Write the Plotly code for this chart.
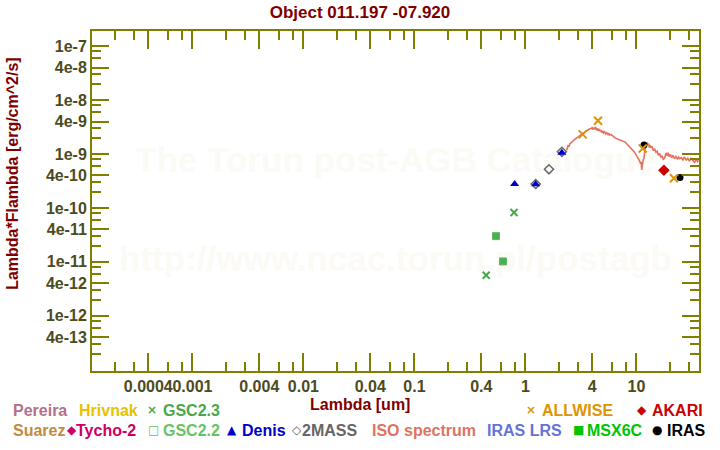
import plotly.graph_objects as go
import math

# ---------------- data ----------------
gsc23_x = [0.443, 0.789]
gsc23_y = [5.64e-12, 8.24e-11]

gsc22_x = [0.543, 0.628]
gsc22_y = [3.0e-11, 1.02e-11]

denis_x = [0.80, 1.238, 2.13]
denis_y = [2.79e-10, 2.75e-10, 1.06e-9]

mass2_x = [1.238, 1.63, 2.13]
mass2_y = [2.78e-10, 5.21e-10, 1.10e-9]

allwise_x = [3.28, 4.51, 11.4, 21.8]
allwise_y = [2.31e-9, 4.15e-9, 1.27e-9, 3.56e-10]

iras_x = [11.7, 24.7]
iras_y = [1.47e-9, 3.66e-10]

akari_x = [17.7]
akari_y = [5.0e-10]

iso_x = [2.34, 2.38, 2.42, 2.47, 2.52, 2.60, 2.66, 2.73, 2.80, 2.88, 2.96, 3.04,
         3.12, 3.20, 3.28, 3.37, 3.46, 3.55, 3.64, 3.74, 3.83, 3.93, 4.00, 4.07,
         4.14, 4.21, 4.28, 4.35, 4.42, 4.50, 4.58, 4.67, 4.76, 4.85, 4.95, 5.05,
         5.18, 5.30, 5.42, 5.55, 5.65, 5.75, 5.90, 6.05, 6.20, 6.38, 6.55, 6.75,
         6.90, 7.07, 7.25, 7.45, 7.65, 7.85, 8.05, 8.30, 8.53, 8.80, 9.05, 9.32,
         9.55, 9.80, 10.0, 10.2, 10.45, 10.7, 10.9, 11.05, 11.15, 11.25, 11.4, 11.55,
         11.7, 11.85, 12.0, 12.15, 12.3, 12.5, 12.7, 12.9, 13.1, 13.3, 13.6, 13.9,
         14.2, 14.6, 15.0, 15.4, 15.8, 16.2, 16.6, 17.0, 17.5, 18.0, 18.5, 19.0,
         19.3, 19.8, 20.3, 20.8, 21.4, 22.0, 22.7, 23.5, 24.0, 24.6, 25.4, 26.2,
         27.0, 28.2, 29.0, 30.0, 31.0, 32.4, 33.5, 34.6, 35.5, 36.4]
iso_y = [1.19, 1.25, 1.43, 1.40, 1.55, 1.69, 1.72, 1.82, 1.88, 1.95, 2.05, 2.12,
         2.20, 2.31, 2.42, 2.52, 2.62, 2.74, 2.80, 2.88, 2.95, 2.98, 3.15, 2.82,
         3.05, 2.90, 3.20, 2.75, 3.00, 2.70, 2.95, 2.66, 2.80, 2.50, 2.70, 2.45,
         2.60, 2.35, 2.48, 2.30, 2.40, 2.25, 2.30, 2.15, 2.12, 2.01, 1.98, 1.90,
         1.86, 1.81, 1.78, 1.72, 1.71, 1.69, 1.60, 1.52, 1.43, 1.35, 1.26, 1.19,
         1.10, 1.02, 0.96, 0.90, 0.82, 0.74, 0.66, 0.72, 0.51, 0.62, 0.70, 0.78,
         0.83, 1.05, 1.30, 1.55, 1.47, 1.63, 1.48, 1.55, 1.30, 1.45, 1.32, 1.38,
         1.15, 1.25, 1.08, 1.12, 0.95, 1.02, 0.88, 0.92, 0.80, 0.85, 1.05, 0.92,
         1.06, 0.90, 0.98, 0.85, 0.95, 0.82, 0.90, 0.80, 0.88, 0.82, 0.86, 0.78,
         0.88, 0.76, 0.85, 0.74, 0.83, 0.77, 0.70, 0.80, 0.72, 0.76]
iso_scale = 1e-9

x_tickvals = [4e-4, 1e-3, 4e-3, 1e-2, 4e-2, 0.1, 0.4, 1, 4, 10]
x_ticktext = ["0.0004", "0.001", "0.004", "0.01", "0.04", "0.1", "0.4", "1", "4", "10"]
x_minor = [m * 10.0 ** e for e in range(-4, 2) for m in (2, 3, 6, 8)]

y_tickvals = [1e-7, 4e-8, 1e-8, 4e-9, 1e-9, 4e-10, 1e-10, 4e-11, 1e-11, 4e-12, 1e-12, 4e-13]
y_ticktext = ["1e-7", "4e-8", "1e-8", "4e-9", "1e-9", "4e-10", "1e-10", "4e-11",
              "1e-11", "4e-12", "1e-12", "4e-13"]
y_minor = [m * 10.0 ** e for e in range(-14, -6) for m in (2, 3, 6, 8)]

x_range = [-3.905, 1.564]
y_range = [-13.023, -6.719]

title_text = "Object 011.197 -07.920"
xtitle_text = "Lambda [um]"
ytitle_text = "Lambda*Flambda [erg/cm^2/s]"
watermark1 = "The Torun post-AGB Catalogue"
watermark2 = "http://www.ncac.torun.pl/postagb"

# legend: (symbol, label, colour, symbol_left_px, label_left_px, row)
legend_items = [
    ("", "Pereira", "#b36f8c", None, 11.5, 0),
    ("", "Hrivnak", "#e6c200", None, 77.5, 0),
    ("×", "GSC2.3", "#4aa84a", 145.5, 161.0, 0),
    ("×", "ALLWISE", "#e09400", 524.5, 540.0, 0),
    ("◆", "AKARI", "#cc0000", 635.5, 650.0, 0),
    ("", "Suarez", "#c38a42", None, 11.0, 1),
    ("◆", "Tycho-2", "#cc0066", 65.5, 74.0, 1),
    ("□", "GSC2.2", "#66c466", 146.0, 161.0, 1),
    ("▲", "Denis", "#0000cc", 225.5, 240.5, 1),
    ("◇", "2MASS", "#666666", 290.0, 300.0, 1),
    ("", "ISO spectrum", "#e07262", None, 370.5, 1),
    ("", "IRAS LRS", "#6474d6", None, 485.5, 1),
    ("■", "MSX6C", "#00c400", 571.0, 585.5, 1),
    ("●", "IRAS", "#000000", 650.5, 665.5, 1),
]

# ---------------- figure ----------------
OLIVE = "#808000"
TICKCOL = "#4b4b1e"
FONT = "Liberation Sans, Arial, sans-serif"

PL, PR, PT, PB = 92.3, 699.3, 30.5, 371.3
W, H = 720, 450


def px_x(px):
    return (px - PL) / (PR - PL)


def px_y(py):
    return (PB - py) / (PB - PT)


fig = go.Figure()

# watermark as a background text trace (drawn under data)
xc = 10 ** ((x_range[0] + x_range[1]) / 2)
y_w1 = 10 ** (y_range[0] + px_y(163) * (y_range[1] - y_range[0]))
y_w2 = 10 ** (y_range[0] + px_y(262) * (y_range[1] - y_range[0]))
fig.add_trace(go.Scatter(
    x=[xc, xc], y=[y_w1, y_w2], mode="text", text=[watermark1, watermark2],
    textfont=dict(family=FONT, size=35, color="#fcfaf5", weight="bold"),
    hoverinfo="skip", showlegend=False))

fig.add_trace(go.Scatter(
    x=iso_x, y=[v * iso_scale for v in iso_y], mode="lines",
    line=dict(color="#e2735f", width=1.6), showlegend=False))

fig.add_trace(go.Scatter(
    x=gsc23_x, y=gsc23_y, mode="markers",
    marker=dict(symbol="x-thin", size=7, line=dict(color="#4aa84a", width=2)),
    showlegend=False))
fig.add_trace(go.Scatter(
    x=gsc22_x, y=gsc22_y, mode="markers",
    marker=dict(symbol="square", size=7, color="#4caf50", line=dict(color="#5cb85c", width=1)),
    showlegend=False))
fig.add_trace(go.Scatter(
    x=mass2_x, y=mass2_y, mode="markers",
    marker=dict(symbol="diamond-open", size=7, color="#666666", line=dict(color="#666666", width=1.5)),
    showlegend=False))
fig.add_trace(go.Scatter(
    x=denis_x, y=denis_y, mode="markers",
    marker=dict(symbol="triangle-up", size=8, color="#0000cc", line=dict(width=0)),
    showlegend=False))
fig.add_trace(go.Scatter(
    x=iras_x, y=iras_y, mode="markers",
    marker=dict(symbol="circle", size=7, color="#000000", line=dict(width=0)),
    showlegend=False))
fig.add_trace(go.Scatter(
    x=akari_x, y=akari_y, mode="markers",
    marker=dict(symbol="diamond", size=9, color="#cc0000", line=dict(width=0)),
    showlegend=False))
fig.add_trace(go.Scatter(
    x=allwise_x, y=allwise_y, mode="markers",
    marker=dict(symbol="x-thin", size=8, line=dict(color="#e09400", width=2)),
    showlegend=False))

axis_common = dict(
    type="log", showgrid=False, zeroline=False,
    showline=True, linecolor=OLIVE, linewidth=2, mirror="allticks",
    ticks="inside", tickcolor=OLIVE, tickwidth=1.5, tickangle=0,
    tickfont=dict(family=FONT, size=16, color=TICKCOL, weight="bold"),
    tickmode="array",
)

fig.update_xaxes(
    **axis_common, range=x_range, tickvals=x_tickvals, ticktext=x_ticktext,
    ticklen=18,
    minor=dict(tickmode="array", tickvals=x_minor, ticks="inside", ticklen=9,
               tickcolor=OLIVE, tickwidth=1.5, showgrid=False))
fig.update_yaxes(
    **axis_common, range=y_range, tickvals=y_tickvals, ticktext=y_ticktext,
    ticklen=17,
    minor=dict(tickmode="array", tickvals=y_minor, ticks="inside", ticklen=9,
               tickcolor=OLIVE, tickwidth=1.5, showgrid=False))

annotations = [
    dict(text=xtitle_text, x=px_x(360), y=px_y(405), xref="paper", yref="paper",
         xanchor="center", yanchor="middle", showarrow=False,
         font=dict(family=FONT, size=16, color="#800000", weight="bold")),
    dict(text=ytitle_text, x=px_x(12), y=px_y(173), xref="paper", yref="paper",
         xanchor="center", yanchor="middle", textangle=-90, showarrow=False,
         font=dict(family=FONT, size=16, color="#800000", weight="bold")),
]

row_y = [410.5, 430.5]
for sym, label, col, sx, lx, row in legend_items:
    if sym:
        annotations.append(dict(
            text=sym, x=px_x(sx), y=px_y(row_y[row]), xref="paper", yref="paper",
            xanchor="left", yanchor="middle", showarrow=False,
            font=dict(family="DejaVu Sans", size=12, color=col, weight="bold")))
    annotations.append(dict(
        text=label, x=px_x(lx), y=px_y(row_y[row]), xref="paper", yref="paper",
        xanchor="left", yanchor="middle", showarrow=False,
        font=dict(family=FONT, size=16, color=col, weight="bold")))

fig.update_layout(
    width=W, height=H,
    margin=dict(l=PL, r=W - PR, t=PT, b=H - PB, pad=0),
    paper_bgcolor="white", plot_bgcolor="white",
    title=dict(text=title_text, x=0.5, xref="container", xanchor="center",
               y=1 - 11.7 / H, yref="container", yanchor="middle",
               font=dict(family=FONT, size=17, color="#800000", weight="bold")),
    annotations=annotations,
    showlegend=False,
)

fig.write_html("out.html")
